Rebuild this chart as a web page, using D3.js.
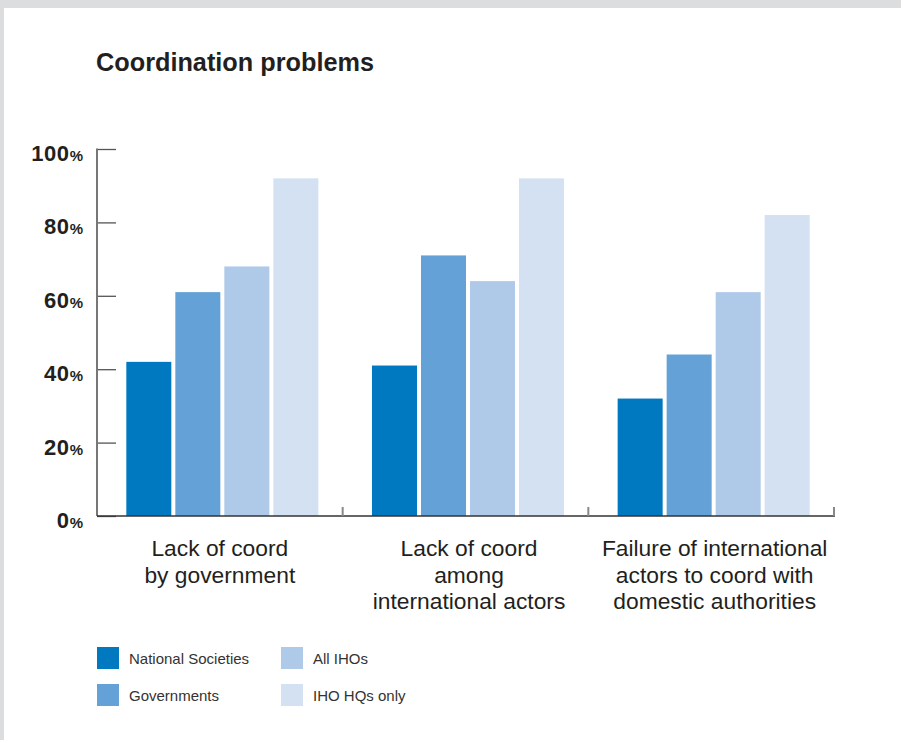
<!DOCTYPE html>
<html>
<head>
<meta charset="utf-8">
<script src="https://cdn.jsdelivr.net/npm/d3@7"></script>
<style>
  html, body { margin: 0; padding: 0; background: #dcdddf; }
  svg { display: block; font-family: "Liberation Sans", Arial, Helvetica, sans-serif; }
</style>
</head>
<body>
<svg id="chart" width="901" height="740"></svg>
<script>
const categories = [
  ["Lack of coord", "by government"],
  ["Lack of coord", "among", "international actors"],
  ["Failure of international", "actors to coord with", "domestic authorities"]
];
const seriesNames = ["National Societies", "Governments", "All IHOs", "IHO HQs only"];
const nationalSocieties = [42, 41, 32];
const governments = [61, 71, 44];
const allIHOs = [68, 64, 61];
const ihoHQsOnly = [92, 92, 82];
const yTicks = [0, 20, 40, 60, 80, 100];
const colors = ["#0079c1", "#64a1d6", "#afc9e9", "#d4e1f3"];

const seriesValues = [nationalSocieties, governments, allIHOs, ihoHQsOnly];
const data = categories.map((c, i) => ({ idx: i, values: seriesValues.map(s => s[i]) }));

const svg = d3.select("#chart");
svg.append("rect").attr("x", 4).attr("y", 8).attr("width", 897).attr("height", 732).attr("fill", "#ffffff");

svg.append("text").attr("x", 96).attr("y", 71)
  .attr("font-size", 25).attr("font-weight", "bold").attr("fill", "#231f20")
  .attr("textLength", 278).attr("lengthAdjust", "spacingAndGlyphs")
  .text("Coordination problems");

const plotLeft = 97, plotRight = 834, plotTop = 149, plotBottom = 516;
const y = d3.scaleLinear().domain([0, 100]).range([plotBottom, plotTop]);
const x0 = d3.scaleBand().domain(d3.range(categories.length)).range([plotLeft, plotRight]).paddingInner(0).paddingOuter(0);
const x1 = d3.scaleBand().domain(d3.range(seriesNames.length)).range([0, x0.bandwidth()]).paddingInner(4 / 49).paddingOuter(0.547);

const g = svg.append("g");
data.forEach(d => {
  g.selectAll(null).data(d.values).enter().append("rect")
    .attr("x", (v, j) => x0(d.idx) + 2.5 + x1(j))
    .attr("y", v => y(v))
    .attr("width", x1.bandwidth())
    .attr("height", v => plotBottom - y(v))
    .attr("fill", (v, j) => colors[j]);
});

const yAxis = d3.axisRight(y).tickValues(yTicks).tickSize(19).tickFormat("");
const ya = svg.append("g").attr("transform", `translate(${plotLeft},0)`).call(yAxis);
ya.select(".domain").remove();
ya.selectAll(".tick line").attr("stroke", "#555").attr("stroke-width", 1.3);
svg.append("line").attr("x1", plotLeft).attr("x2", plotLeft).attr("y1", plotTop - 0.6).attr("y2", plotBottom)
  .attr("stroke", "#777").attr("stroke-width", 2);

const yl = svg.append("g");
yTicks.forEach(t => {
  const txt = yl.append("text").attr("x", 83).attr("y", y(t) + 12)
    .attr("text-anchor", "end").attr("fill", "#231f20").attr("font-weight", "bold");
  txt.append("tspan").attr("font-size", 22).attr("letter-spacing", 0.6).text(t);
  txt.append("tspan").attr("font-size", 15).text("%");
});

svg.append("line").attr("x1", plotLeft).attr("x2", plotRight + 1).attr("y1", plotBottom).attr("y2", plotBottom)
  .attr("stroke", "#333").attr("stroke-width", 1.5);
const sepTicks = d3.range(1, categories.length + 1).map(i => x0(i - 1) + x0.bandwidth());
svg.selectAll(null).data(sepTicks).enter().append("line")
  .attr("x1", d => d).attr("x2", d => d).attr("y1", plotBottom - 9).attr("y2", plotBottom)
  .attr("stroke", "#888").attr("stroke-width", 2);

categories.forEach((lines, i) => {
  const cx = x0(i) + x0.bandwidth() / 2 + (i === 0 ? 0 : 3.5);
  const t = svg.append("text").attr("x", cx).attr("y", 556)
    .attr("text-anchor", "middle").attr("font-size", 22.8).attr("fill", "#231f20");
  lines.forEach((ln, k) => {
    t.append("tspan").attr("x", cx).attr("dy", k === 0 ? 0 : 26.5).text(ln);
  });
});

const legendPos = [[97, 647], [97, 684], [281, 647], [281, 684]];
seriesNames.forEach((name, j) => {
  const [lx, ly] = legendPos[j];
  svg.append("rect").attr("x", lx).attr("y", ly).attr("width", 22).attr("height", 22).attr("fill", colors[j]);
  svg.append("text").attr("x", lx + 32).attr("y", ly + 16.5).attr("font-size", 15).attr("fill", "#333")
    .text(name);
});
</script>
</body>
</html>
